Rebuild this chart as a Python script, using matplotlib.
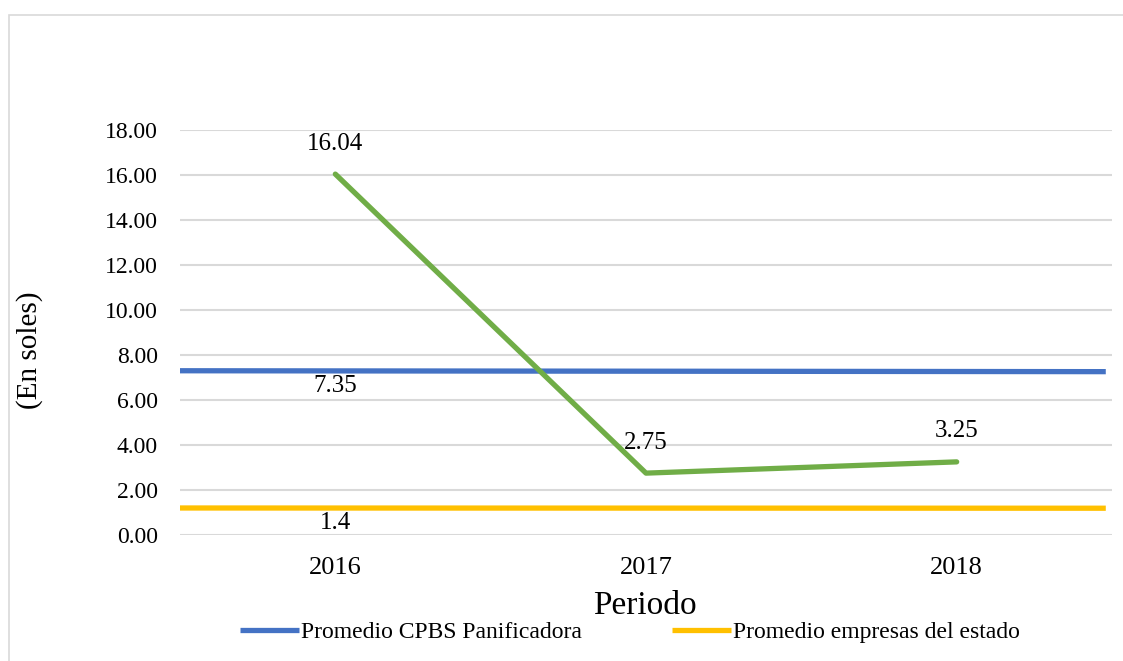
import matplotlib.pyplot as plt
from matplotlib.patches import Rectangle

plt.rcParams['font.family'] = ['Liberation Serif', 'DejaVu Serif']

# data
periodos = ["2016", "2017", "2018"]
cpbs_panificadora = [16.04, 2.75, 3.25]
promedio_cpbs = 7.35
promedio_estado = 1.4
# the two average lines are drawn a little off their labels, across the whole axis
cpbs_line = [7.30, 7.26]
estado_line = [1.20, 1.19]
yticks = [0, 2, 4, 6, 8, 10, 12, 14, 16, 18]

blue = "#4472C4"
yellow = "#FFC000"
green = "#70AD47"
grid_c = "#D9D9D9"

fig = plt.figure(figsize=(11.23, 6.61), dpi=100)
ax = fig.add_axes([180 / 1123, 1 - 535 / 661, (1112 - 180) / 1123, (535 - 130) / 661])

x = list(range(len(periodos)))
edges = [-0.5, len(periodos) - 0.52]

ax.plot(edges, cpbs_line, color=blue, lw=3.8, solid_capstyle="butt",
        label="Promedio CPBS Panificadora", zorder=3)
ax.plot(edges, estado_line, color=yellow, lw=3.8, solid_capstyle="butt",
        label="Promedio empresas del estado", zorder=3)
ax.plot(x, cpbs_panificadora, color=green, lw=3.8, solid_capstyle="round",
        solid_joinstyle="round", zorder=4)

for xi, v in zip(x, cpbs_panificadora):
    ax.annotate(f"{v:.2f}", (xi, v), xytext=(0, 22), textcoords="offset points",
                ha="center", va="center", fontsize=18)
ax.annotate(f"{promedio_cpbs}", (0, cpbs_line[0]), xytext=(0, -11), textcoords="offset points",
            ha="center", va="center", fontsize=18)
ax.annotate(f"{promedio_estado}", (0, estado_line[0]), xytext=(0, -11), textcoords="offset points",
            ha="center", va="center", fontsize=18)

ax.set_xlim(-0.5, len(periodos) - 0.5)
ax.set_ylim(0, 18)
ax.set_yticks(yticks)
ax.set_yticklabels([f"{t:.2f}" for t in yticks])
ax.set_xticks(x)
ax.set_xticklabels(periodos)
ax.tick_params(axis="y", length=0, pad=16, labelsize=17)
ax.tick_params(axis="x", length=0, pad=16, labelsize=19)
ax.grid(axis="y", color=grid_c, lw=1.5)
ax.set_axisbelow(True)
for s in ax.spines.values():
    s.set_visible(False)

fig.text(645 / 1123, 1 - 606 / 661, "Periodo", ha="center", va="center", fontsize=24)
fig.text(30 / 1123, 1 - 350 / 661, "(En soles)", ha="center", va="center",
         rotation=90, fontsize=21)

fig.legend(loc="center", bbox_to_anchor=(630 / 1123, 1 - 632 / 661), ncol=2,
           frameon=False, fontsize=17, handlelength=2.5, handletextpad=0.1,
           columnspacing=3.8, borderaxespad=0)

fig.patches.append(Rectangle((9 / 1123, -0.1), 1.1, 1 - 15 / 661 + 0.1,
                             transform=fig.transFigure, fill=False,
                             edgecolor=grid_c, lw=1.2))

fig.savefig("out.png", dpi=100)
